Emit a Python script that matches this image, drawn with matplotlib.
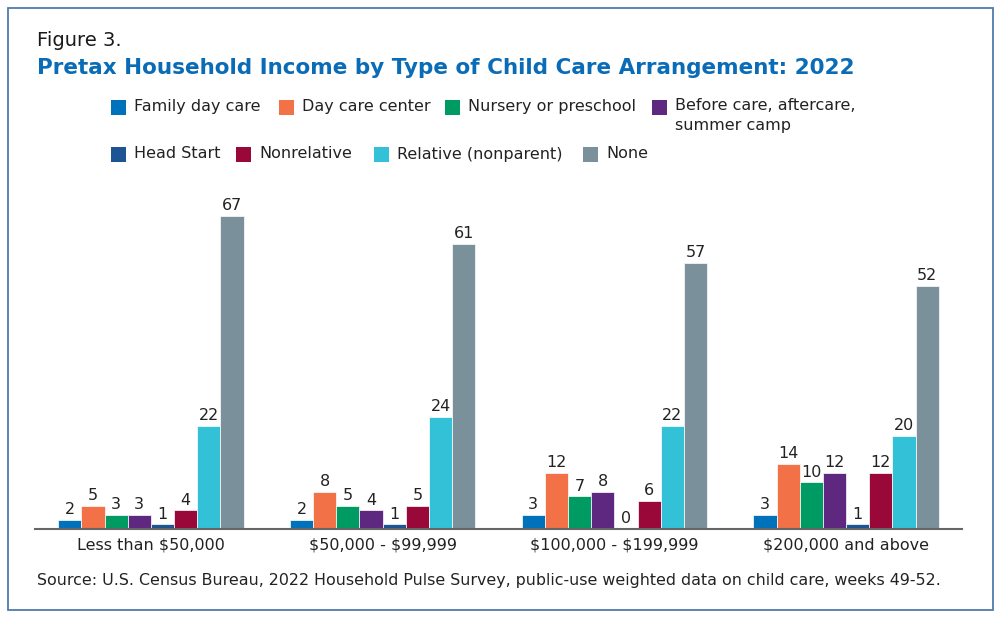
import matplotlib.pyplot as plt
import numpy as np
from matplotlib.patches import Rectangle

# data
groups = ['Less than $50,000', '$50,000 - $99,999', '$100,000 - $199,999', '$200,000 and above']
series = ['Family day care', 'Day care center', 'Nursery or preschool',
          'Before care, aftercare,\nsummer camp', 'Head Start', 'Nonrelative',
          'Relative (nonparent)', 'None']
family_day = [2, 2, 3, 3]
day_center = [5, 8, 12, 14]
nursery = [3, 5, 7, 10]
before_care = [3, 4, 8, 12]
head_start = [1, 1, 0, 1]
nonrelative = [4, 5, 6, 12]
relative = [22, 24, 22, 20]
none = [67, 61, 57, 52]
values = [family_day, day_center, nursery, before_care, head_start, nonrelative, relative, none]

colors = ['#0072bc', '#f37146', '#009a63', '#5e2780', '#1d5493', '#990838', '#33c1d8', '#7a909b']

plt.rcParams['font.family'] = ['DejaVu Sans']
plt.rcParams['text.parse_math'] = False  # keep the $ signs literal

W, H = 1000, 620
fig = plt.figure(figsize=(W / 100, H / 100), dpi=100)

# outer frame
fig.patches.append(Rectangle((8 / W, 1 - 610 / H), 985 / W, 602 / H, transform=fig.transFigure,
                             fill=False, edgecolor='#4f7cab', linewidth=1.3))

fig.text(37 / W, 1 - 40 / H, 'Figure 3.', fontsize=14, color='#1a1a1a', va='center', ha='left')
fig.text(37 / W, 1 - 68 / H, 'Pretax Household Income by Type of Child Care Arrangement: 2022',
         fontsize=15.5, fontweight='bold', color='#0a6cb6', va='center', ha='left')

# legend drawn by hand, two rows
leg_pos = [(111, 107), (279, 107), (445, 107), (652, 107),
           (111, 154), (236, 154), (374, 154), (583, 154)]
for name, col, (lx, ly) in zip(series, colors, leg_pos):
    fig.patches.append(Rectangle((lx / W, 1 - (ly + 7.5) / H), 15 / W, 15 / H,
                                 transform=fig.transFigure, facecolor=col, edgecolor='none'))
    if '\n' in name:
        fig.text((lx + 23) / W, 1 - (ly - 9) / H, name, fontsize=11.5, color='#222222',
                 va='top', ha='left', linespacing=1.45)
    else:
        fig.text((lx + 23) / W, 1 - ly / H, name, fontsize=11.5, color='#222222',
                 va='center', ha='left')

ax = fig.add_axes([35 / W, 1 - 529 / H, 927 / W, 70 * 4.67 / H])
x = np.arange(len(groups))
bw = 0.1
for i, (vals, col) in enumerate(zip(values, colors)):
    pos = x + (i - 3.5) * bw
    bars = ax.bar(pos, vals, width=bw, color=col, edgecolor='#ffffff', linewidth=0.5)
    ax.bar_label(bars, labels=[str(v) for v in vals], padding=2, fontsize=11.5, color='#222222')

ax.set_xlim(-0.5, 3.5)
ax.set_ylim(0, 70)
ax.set_yticks([])
ax.set_xticks(x)
ax.set_xticklabels(groups, fontsize=11.5, color='#222222')
ax.tick_params(axis='x', length=0, pad=6)
for s in ['top', 'right', 'left']:
    ax.spines[s].set_visible(False)
ax.spines['bottom'].set_color('#666666')
ax.spines['bottom'].set_linewidth(1.5)

fig.text(37 / W, 1 - 581 / H,
         'Source: U.S. Census Bureau, 2022 Household Pulse Survey, public-use weighted data on child care, weeks 49-52.',
         fontsize=11.4, color='#222222', va='center', ha='left')

fig.savefig('out.png', dpi=100)
